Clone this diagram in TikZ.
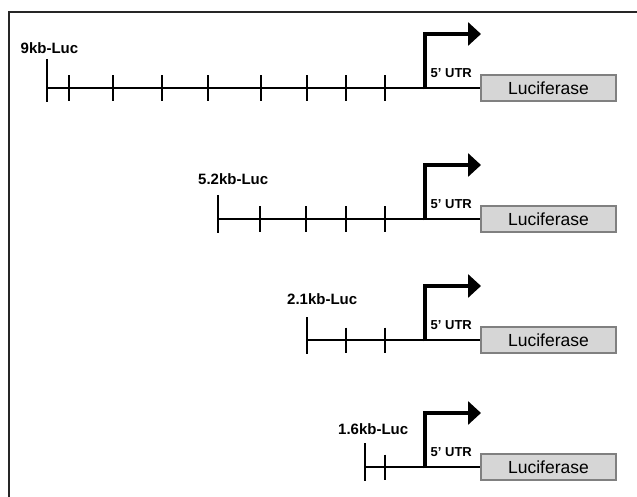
\documentclass[tikz,border=0pt]{standalone}
\usepackage{fontspec}
\setmainfont{Liberation Sans}
\usetikzlibrary{arrows.meta}
\tikzset{
  frameline/.style={line width=2.4pt, black!85},
  mainline/.style={line width=2.8pt, black},
  tickline/.style={line width=2.3pt, black},
  promline/.style={line width=4.5pt, black, line join=miter,
     -{Triangle[length=13pt,width=23pt]}},
  lucbox/.style={draw=black!50, line width=1.2pt, fill=black!16,
     minimum width=135pt, minimum height=26pt, inner sep=0pt,
     font=\fontsize{17.5}{17.5}\selectfont},
  constr/.style={anchor=base west, inner sep=0pt, font=\bfseries\fontsize{15}{15}\selectfont},
  utr/.style={anchor=base west, inner sep=0pt, font=\bfseries\fontsize{13}{13}\selectfont}
}
\begin{document}
\begin{tikzpicture}[x=1pt,y=-1pt]
\useasboundingbox (0,0) rectangle (637,497);
% frame
\coordinate (fbl) at (9,498);
\coordinate (ftl) at (9,12);
\coordinate (ftr) at (638,12);
\draw[frameline] (fbl) -- (ftl) -- (ftr);

% row data: name / line y / start x / ticks / bar top
\foreach \r/\Y/\S/\ticks/\bt in {
   1/88/47/{69,113,162,208,261,307,346,385}/29,
   2/219/218/{260,306,346,385}/24,
   3/340/307/{346,385}/23,
   4/467/365/{385}/24}{
  \node[lucbox] (luc\r) at (548.5,\Y) {Luciferase};
  \coordinate (s\r) at (\S,\Y);
  \coordinate (p\r) at (425,\Y);
  \coordinate (a\r) at (481,\Y-54);
  \draw[mainline] (s\r) -- (luc\r.west);
  \draw[tickline] ([yshift=\bt]s\r) -- ([yshift=-14]s\r);
  \foreach \t in \ticks {
    \coordinate (t\r-\t) at (\t,\Y);
    \draw[tickline] ([yshift=12.5]t\r-\t) -- ([yshift=-13]t\r-\t);
  }
  \draw[promline] ([yshift=-1.4]p\r) |- (a\r);
  \node[utr] (u\r) at (430.5,\Y-10.5) {5' UTR};
}
\node[constr] (c1) at (20.5,53.5) {9kb-Luc};
\node[constr] (c2) at (198,185) {5.2kb-Luc};
\node[constr] (c3) at (287,304) {2.1kb-Luc};
\node[constr] (c4) at (338,434) {1.6kb-Luc};
\end{tikzpicture}
\end{document}
